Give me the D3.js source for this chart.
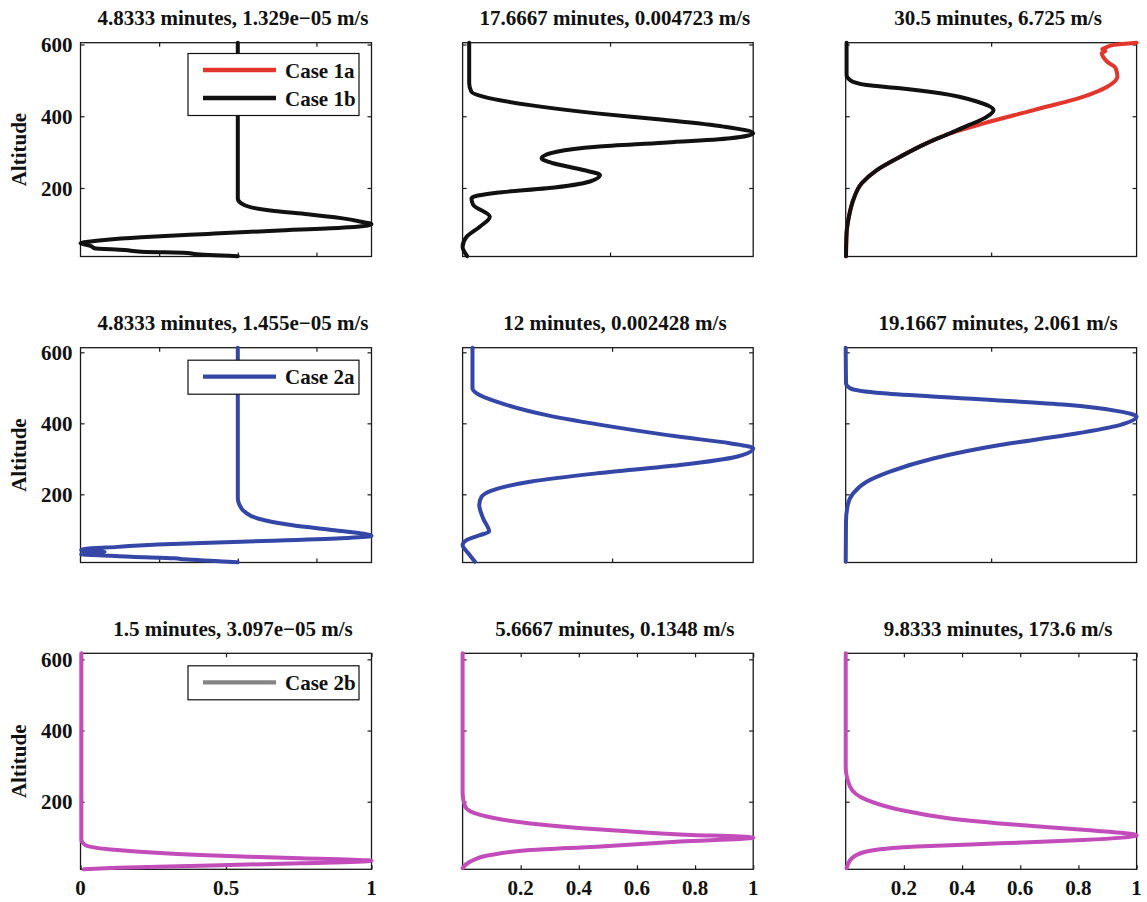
<!DOCTYPE html>
<html>
<head>
<meta charset="utf-8">
<script src="https://cdn.jsdelivr.net/npm/d3@7"></script>
<style>
  body { margin: 0; background: #fff; }
  svg { display: block; }
  text { font-family: "Liberation Serif", "Times New Roman", serif; font-weight: bold; fill: #111; }
</style>
</head>
<body>
<script>
// ---------------- DATA ----------------
const titles = [
  "4.8333 minutes, 1.329e\u221205 m/s", "17.6667 minutes, 0.004723 m/s", "30.5 minutes, 6.725 m/s",
  "4.8333 minutes, 1.455e\u221205 m/s", "12 minutes, 0.002428 m/s", "19.1667 minutes, 2.061 m/s",
  "1.5 minutes, 3.097e\u221205 m/s", "5.6667 minutes, 0.1348 m/s", "9.8333 minutes, 173.6 m/s"
];
const yTicks = [200, 400, 600];
const rowAltDomains = [[9, 605], [8, 613], [10, 617]];
const xDomains = [
  [-0.5, 1.35], [-0.015, 1], [0, 1],
  [-0.5, 1.35], [-0.03, 1], [0, 1],
  [0, 1], [0, 1], [0, 1]
];
const xTicks = [
  [0, 0.5, 1], [0.5], [0.5],
  [0, 0.5, 1], [0.5], [0.5],
  [0, 0.5, 1], [0.2, 0.4, 0.6, 0.8, 1], [0.2, 0.4, 0.6, 0.8, 1]
];
const legendNames = [["Case 1a", "Case 1b"], ["Case 2a"], ["Case 2b"]];

// Row 1 : Case 1a (red) / Case 1b (black)
const p1_case1b_x   = [0.5, 0.5, 0.522, 0.585, 0.733, 0.945, 1.157, 1.284, 1.35, 1.157, 0.733, 0.309, -0.114, -0.347, -0.454, -0.5, -0.432, -0.411, -0.220, -0.114, 0.182, 0.225, 0.5];
const p1_case1b_alt = [605, 171, 157, 146, 136, 127, 116, 106, 99, 89, 81, 72, 62.5, 55, 50, 46, 38, 32, 27, 22, 19, 16, 10];

const p2_case1b_x   = [0.008, 0.008, 0.016, 0.057, 0.220, 0.453, 0.686, 0.896, 1.0, 0.920, 0.686, 0.453, 0.314, 0.261, 0.302, 0.407, 0.465, 0.430, 0.279, 0.104, 0.016, 0.022, 0.080, 0.045, -0.001, -0.015, 0.001];
const p2_case1b_alt = [605, 492, 468, 454.5, 431, 408, 390, 371, 352.5, 338.5, 326, 315, 301, 283, 269, 250, 236, 218, 199, 187, 171, 153, 120, 92, 64, 36, 10];

const p3_case1a_x   = [1.0, 0.922, 0.895, 0.882, 0.893, 0.880, 0.899, 0.928, 0.934, 0.899, 0.818, 0.646, 0.474, 0.359, 0.279, 0.187, 0.107, 0.055, 0.026, 0.011, 0.003, 0.001];
const p3_case1a_alt = [605, 599, 592, 587, 582, 576, 552, 534, 510, 482, 454.5, 417, 380, 352.5, 325, 287, 250, 213, 166.5, 120, 74, 10];
const p3_case1b_x   = [0.003, 0.003, 0.015, 0.072, 0.187, 0.325, 0.451, 0.508, 0.486, 0.417, 0.359, 0.279, 0.187, 0.107, 0.055, 0.026, 0.011, 0.003, 0.001];
const p3_case1b_alt = [605, 515, 501, 487, 478, 464, 441, 417, 399, 373, 352.5, 325, 287, 250, 213, 166.5, 120, 74, 10];

// Row 2 : Case 2a (blue)
const p4_case2a_x   = [0.5, 0.5, 0.511, 0.543, 0.627, 0.839, 1.115, 1.284, 1.35, 1.157, 0.522, -0.009, -0.263, -0.475, -0.496, -0.347, -0.496, -0.305, -0.178, 0.098, 0.161, 0.5];
const p4_case2a_alt = [613, 189, 170, 151, 132, 113.5, 99, 90, 83, 76, 66.5, 59, 52, 46, 43, 38, 31, 27, 24, 19.7, 17, 9];

const p5_case2a_x   = [0.005, 0.005, 0.020, 0.090, 0.268, 0.504, 0.740, 0.917, 1.0, 0.941, 0.740, 0.445, 0.209, 0.078, 0.037, 0.029, 0.043, 0.064, 0.031, -0.016, -0.03, -0.010, 0.014];
const p5_case2a_alt = [613, 499, 484.5, 461, 423, 390, 362, 344, 330, 306, 282.5, 259, 235.5, 212, 193, 170, 132, 95, 85, 71, 57, 34, 10];

const p6_case2a_x   = [0, 0.001, 0.015, 0.129, 0.415, 0.759, 0.930, 1.0, 0.942, 0.759, 0.530, 0.301, 0.152, 0.072, 0.026, 0.007, 0.001, 0];
const p6_case2a_alt = [613, 513, 499, 484.5, 470, 452, 435, 419, 395, 367, 339, 301, 264, 235.5, 203, 170, 123, 10];

// Row 3 : Case 2b (magenta curve)
const p7_case2b_x   = [0.003, 0.003, 0.017, 0.126, 0.412, 0.756, 1.0, 0.756, 0.412, 0.126, 0.011];
const p7_case2b_alt = [617, 92, 78, 64, 50, 41, 34, 27, 20, 14.6, 10];

const p8_case2b_x   = [0, 0, 0.009, 0.061, 0.233, 0.462, 0.748, 1.0, 0.748, 0.462, 0.233, 0.095, 0.026, 0];
const p8_case2b_alt = [617, 224, 186, 163, 139, 122.5, 108, 99, 88, 73.6, 64, 50, 31.5, 13];

const p9_case2b_x   = [0, 0, 0.015, 0.072, 0.187, 0.358, 0.588, 0.816, 1.0, 0.816, 0.530, 0.244, 0.072, 0.021, 0.003];
const p9_case2b_alt = [617, 298, 242, 205, 177, 153, 135, 121, 106, 92, 83, 74, 60, 41, 13];

// ---------------- STYLE / LAYOUT ----------------
const colors = { case1a: "#e2352b", case1b: "#111111", case2a: "#3447a6", case2b: "#c24cb9", case2bLegend: "#858585" };
const colRanges = [[80.5, 371.5], [462.6, 753.2], [845.7, 1136.6]];
const rowRanges = [[256.5, 42.7], [562.5, 347.7], [869.3, 653.3]];
const legendColors = [[colors.case1a, colors.case1b], [colors.case2a], [colors.case2bLegend]];

const seriesByPanel = [
  [[p1_case1b_x, p1_case1b_alt, colors.case1b]],
  [[p2_case1b_x, p2_case1b_alt, colors.case1b]],
  [[p3_case1a_x, p3_case1a_alt, colors.case1a], [p3_case1b_x, p3_case1b_alt, colors.case1b]],
  [[p4_case2a_x, p4_case2a_alt, colors.case2a]],
  [[p5_case2a_x, p5_case2a_alt, colors.case2a]],
  [[p6_case2a_x, p6_case2a_alt, colors.case2a]],
  [[p7_case2b_x, p7_case2b_alt, colors.case2b]],
  [[p8_case2b_x, p8_case2b_alt, colors.case2b]],
  [[p9_case2b_x, p9_case2b_alt, colors.case2b]]
];

const FS = 21;
const svg = d3.select("body").append("svg").attr("width", 1147).attr("height", 902);

for (let i = 0; i < 9; i++) {
  const r = Math.floor(i / 3), c = i % 3;
  const x = d3.scaleLinear().domain(xDomains[i]).range(colRanges[c]);
  const y = d3.scaleLinear().domain(rowAltDomains[r]).range(rowRanges[r]);
  const [x0, x1] = colRanges[c];
  const [yb, yt] = rowRanges[r];
  const g = svg.append("g");

  // box
  g.append("rect").attr("x", x0).attr("y", yt).attr("width", x1 - x0).attr("height", yb - yt)
    .attr("fill", "none").attr("stroke", "#1a1a1a").attr("stroke-width", 1.3);

  // ticks via d3 axes (inward), both sides
  const tl = 4;
  const axL = g.append("g").attr("transform", `translate(${x0},0)`)
    .call(d3.axisRight(y).tickValues(yTicks).tickSize(tl).tickFormat(""));
  const axR = g.append("g").attr("transform", `translate(${x1},0)`)
    .call(d3.axisLeft(y).tickValues(yTicks).tickSize(tl).tickFormat(""));
  const axB = g.append("g").attr("transform", `translate(0,${yb})`)
    .call(d3.axisTop(x).tickValues(xTicks[i]).tickSize(tl).tickFormat(""));
  const axT = g.append("g").attr("transform", `translate(0,${yt})`)
    .call(d3.axisBottom(x).tickValues(xTicks[i]).tickSize(tl).tickFormat(""));
  [axL, axR, axB, axT].forEach(a => {
    a.select(".domain").remove();
    a.selectAll("line").attr("stroke", "#1a1a1a").attr("stroke-width", 1.2);
  });

  // y tick labels (left column)
  if (c === 0) {
    yTicks.forEach(t => {
      g.append("text").attr("x", x0 - 8).attr("y", y(t)).attr("dy", "0.36em")
        .attr("text-anchor", "end").attr("font-size", FS).text(t);
    });
    g.append("text").attr("transform", `translate(25.5,${(yb + yt) / 2}) rotate(-90)`)
      .attr("text-anchor", "middle").attr("font-size", FS).text("Altitude");
  }
  // x tick labels (bottom row)
  if (r === 2) {
    xTicks[i].forEach(t => {
      g.append("text").attr("x", x(t)).attr("y", 895)
        .attr("text-anchor", "middle").attr("font-size", FS).text(String(t));
    });
  }
  // title
  g.append("text").attr("x", (x0 + x1) / 2 + 7).attr("y", yt - 17.5)
    .attr("text-anchor", "middle").attr("font-size", FS).text(titles[i]);

  // curves
  const line = d3.line().x(d => x(d[0])).y(d => y(d[1])).curve(d3.curveMonotoneY);
  seriesByPanel[i].forEach(([xs, alts, col]) => {
    const pts = xs.map((v, k) => [v, alts[k]]).sort((a, b) => a[1] - b[1]);
    g.append("path").datum(pts).attr("d", line).attr("fill", "none")
      .attr("stroke", col).attr("stroke-width", 4).attr("stroke-linejoin", "round").attr("stroke-linecap", "round");
  });

  // legend (left column)
  if (c === 0) {
    const names = legendNames[r], cols = legendColors[r];
    const bx = x0 + 107.5, bw = 171, by = yt + (r === 0 ? 10.8 : 12.5), bh = 28 * names.length + 6;
    const lg = g.append("g");
    lg.append("rect").attr("x", bx).attr("y", by).attr("width", bw).attr("height", bh)
      .attr("fill", "#fff").attr("stroke", "#111").attr("stroke-width", 1.2);
    names.forEach((nm, k) => {
      const ly = by + 16.5 + 28 * k;
      lg.append("line").attr("x1", bx + 15).attr("x2", bx + 88).attr("y1", ly).attr("y2", ly)
        .attr("stroke", cols[k]).attr("stroke-width", 4.3);
      lg.append("text").attr("x", bx + 97).attr("y", ly + 7.5).attr("font-size", FS).text(nm);
    });
  }
}
</script>
</body>
</html>
